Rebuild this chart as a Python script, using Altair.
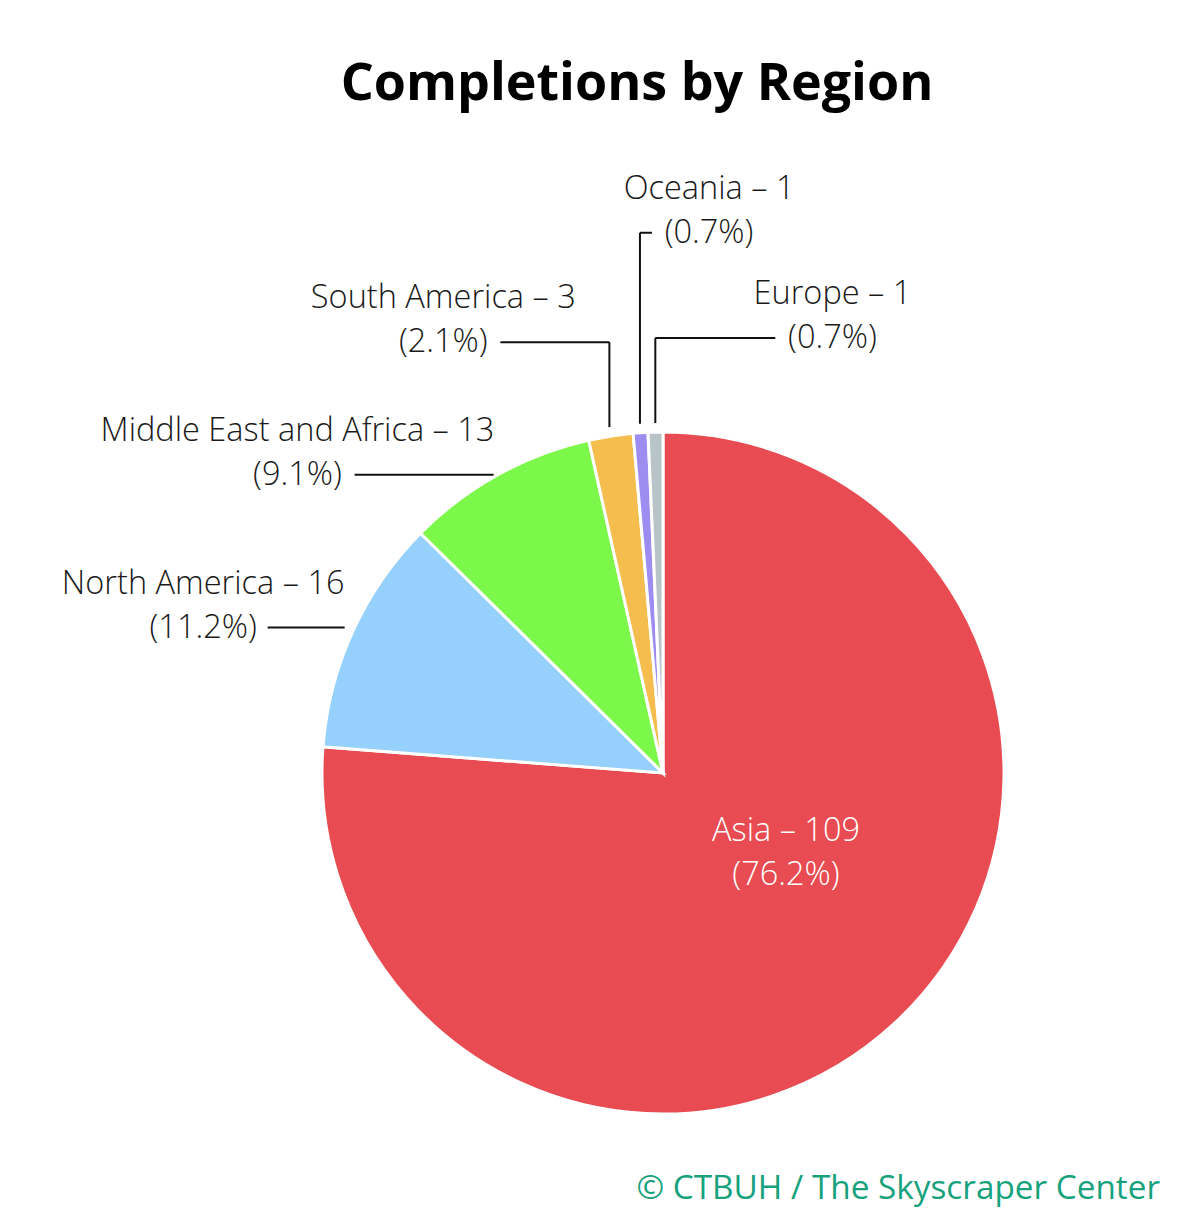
import altair as alt
import pandas as pd

# ---- data ----
regions = ["Asia", "North America", "Middle East and Africa", "South America", "Oceania", "Europe"]
counts = [109, 16, 13, 3, 1, 1]
colors = ["#E84B51", "#96D0FC", "#7CF84B", "#F5BC4E", "#9E8DF0", "#B9C4C8"]
title_text = "Completions by Region"
credit_text = "© CTBUH / The Skyscraper Center"

# ---- callout layout (pixels): leader rise above the slice edge and horizontal run ----
leader_rise = [0, 0, -8, 85, 191, 85]
leader_run = [0, -77, -139, -109, 12, 120]

df = pd.DataFrame({
    "region": regions,
    "count": counts,
    "idx": list(range(len(regions))),
    "rise": leader_rise,
    "run": leader_run,
})

W, H = 1184, 1095
CX, CY = 655, 652      # pie centre in plot coordinates
R = 341                # pie radius
RL = 350               # where leaders meet the pie
GAP = 13
CHAR_W = 14.7
LH = 44
FS = 32.5
FONT = "Open Sans"
TXT = "#1a1a1a"

base = (
    alt.Chart(df)
    .transform_joinaggregate(total="sum(count)")
    .transform_window(cum="sum(count)", sort=[alt.SortField("idx")])
    .transform_calculate(mid="(datum.cum - datum.count/2) / datum.total * 2 * PI")
    .transform_calculate(pct="format(datum.count / datum.total * 100, '.1f')")
    .transform_calculate(line1="datum.region + ' \u2013 ' + datum.count")
    .transform_calculate(line2="'(' + datum.pct + '%)'")
    .transform_calculate(label="datum.line1 + '\\n' + datum.line2")
    .transform_calculate(ax=f"{CX} + {RL} * sin(datum.mid)")
    .transform_calculate(ay=f"{CY} - {RL} * cos(datum.mid)")
    .transform_calculate(ey="datum.ay - datum.rise")
    .transform_calculate(ex="datum.ax + datum.run")
    .transform_calculate(
        lx=f"datum.ex + (datum.run < 0 ? -1 : 1) * ({GAP} + {CHAR_W} * length(datum.line2) / 2)"
    )
    .transform_calculate(ly=f"datum.ey - {LH}")
)

pie = base.mark_arc(radius=R, stroke="white", strokeWidth=3).encode(
    theta=alt.Theta("count:Q", stack=True),
    order=alt.Order("idx:Q"),
    color=alt.Color("region:N", scale=alt.Scale(domain=regions, range=colors), legend=None),
    x=alt.value(CX),
    y=alt.value(CY),
)

callouts = base.transform_filter("datum.idx > 0")

vert = callouts.transform_filter("datum.rise > 0").mark_rule(color="#111111", strokeWidth=2).encode(
    x=alt.X("ax:Q", scale=None, axis=None),
    y=alt.Y("ay:Q", scale=None, axis=None),
    y2="ey:Q",
)

horiz = callouts.mark_rule(color="#111111", strokeWidth=2).encode(
    x=alt.X("ax:Q", scale=None, axis=None),
    x2="ex:Q",
    y=alt.Y("ey:Q", scale=None, axis=None),
)

labels = callouts.mark_text(
    align="center", baseline="middle", font=FONT, fontSize=FS, fontWeight=300,
    lineBreak="\n", lineHeight=LH, color=TXT,
).encode(
    x=alt.X("lx:Q", scale=None, axis=None),
    y=alt.Y("ly:Q", scale=None, axis=None),
    text="label:N",
)

inside = base.transform_filter("datum.idx == 0").mark_text(
    align="center", baseline="middle", font=FONT, fontSize=FS, fontWeight=300,
    lineBreak="\n", lineHeight=LH, color="white",
).encode(
    x=alt.value(CX + 123),
    y=alt.value(CY + 58),
    text="label:N",
)

credit = alt.Chart(pd.DataFrame({"t": [credit_text]})).mark_text(
    align="right", baseline="middle", font=FONT, fontSize=33.3, fontWeight=400, color="#17A27D",
).encode(
    x=alt.value(1152),
    y=alt.value(1068),
    text="t:N",
)

chart = (
    alt.layer(pie, vert, horiz, labels, inside, credit)
    .properties(
        width=W,
        height=H,
        padding={"top": 50, "left": 0, "right": 0, "bottom": 0},
        title=alt.Title(
            title_text, font=FONT, fontSize=52, fontWeight="bold", color="black",
            anchor="middle", dx=37, offset=10,
        ),
        background="white",
    )
    .configure_view(stroke=None)
)

chart.save("out.html", embed_options={"renderer": "svg", "actions": False})
